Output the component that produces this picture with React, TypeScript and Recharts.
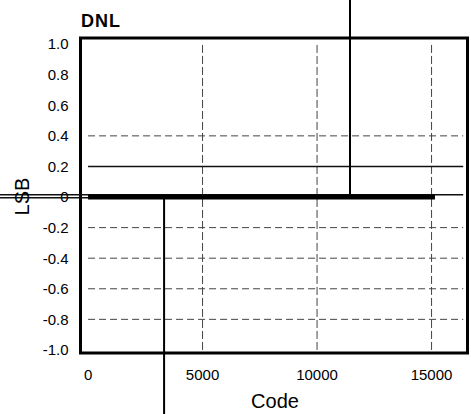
import React from 'react'
import {
  Line,
  LineChart,
  ReferenceArea,
  ReferenceLine,
  XAxis,
  YAxis
} from 'recharts'

// DNL trace (code -> LSB)
const dnlCodes = [0, 15150]
const dnlValues = [0, 0]

// isolated missing/wide codes
const spikeCodes = [3320, 11440]
const spikeValues = [-1.42, 1.3]

const xTicks = [0, 5000, 10000, 15000]
const yTicks = [-1, -0.8, -0.6, -0.4, -0.2, 0, 0.2, 0.4, 0.6, 0.8, 1]

const gridRows = [0.4, -0.2, -0.4, -0.6, -0.8]
const gridCols = [5000, 10000, 15000]
const limitLevels = [0.2, 0.015]
const leadLevels = [0.015, -0.005]

const codeMax = 16383
const leadCode = -3850
const xDomain = [-330, 16570]
const yDomain = [-1.02, 1.04]

const W = 471
const H = 414
const font = 'Arial, "Liberation Sans", sans-serif'

const App: React.FC = () => {
  const data = dnlCodes.map((c, i) => ({ code: c, dnl: dnlValues[i] }))

  return (
    <div style={{ position: 'absolute', left: 0, top: 0, width: W, height: H, fontFamily: font }}>
      <LineChart
        width={W}
        height={H}
        data={data}
        margin={{ top: 38, right: 3.5, bottom: 21, left: 10.5 }}
      >
        <XAxis
          dataKey="code"
          type="number"
          domain={xDomain}
          ticks={xTicks}
          allowDataOverflow
          axisLine={false}
          tickLine={false}
          tickMargin={10}
          height={40}
          tick={{ fill: '#000', fontSize: 15, fontFamily: font }}
        />
        <YAxis
          type="number"
          domain={yDomain}
          ticks={yTicks}
          allowDataOverflow
          axisLine={false}
          tickLine={false}
          tickMargin={6}
          width={70}
          interval={0}
          tick={{ fill: '#000', fontSize: 15, fontFamily: font }}
          tickFormatter={(v: number) => (v === 0 ? '0' : v.toFixed(1))}
        />

        {gridRows.map(v => (
          <ReferenceLine
            key={`r${v}`}
            segment={[{ x: 0, y: v }, { x: codeMax, y: v }]}
            stroke="#444"
            strokeWidth={1}
            strokeDasharray="7 4"
            ifOverflow="visible"
          />
        ))}
        {gridCols.map(v => (
          <ReferenceLine
            key={`c${v}`}
            segment={[{ x: v, y: -1 }, { x: v, y: 1 }]}
            stroke="#444"
            strokeWidth={1}
            strokeDasharray="8 3"
            ifOverflow="visible"
          />
        ))}

        <ReferenceLine
          segment={[{ x: 0, y: limitLevels[0] }, { x: codeMax, y: limitLevels[0] }]}
          stroke="#111"
          strokeWidth={1.5}
          ifOverflow="visible"
        />
        <ReferenceLine
          segment={[{ x: leadCode, y: limitLevels[1] }, { x: codeMax, y: limitLevels[1] }]}
          stroke="#111"
          strokeWidth={1.5}
          ifOverflow="visible"
        />
        <ReferenceLine
          segment={[{ x: leadCode, y: leadLevels[1] }, { x: 0, y: leadLevels[1] }]}
          stroke="#111"
          strokeWidth={1.5}
          ifOverflow="visible"
        />

        <Line
          dataKey="dnl"
          stroke="#000"
          strokeWidth={5}
          dot={false}
          isAnimationActive={false}
        />

        {spikeCodes.map((c, i) => (
          <ReferenceLine
            key={`s${c}`}
            segment={[{ x: c, y: 0 }, { x: c, y: spikeValues[i] }]}
            stroke="#000"
            strokeWidth={2}
            ifOverflow="visible"
          />
        ))}

        <ReferenceArea
          x1={xDomain[0]}
          x2={xDomain[1]}
          y1={yDomain[0]}
          y2={yDomain[1]}
          fill="none"
          stroke="#000"
          strokeWidth={3}
          ifOverflow="visible"
        />
      </LineChart>

      <svg
        width={W}
        height={H}
        style={{ position: 'absolute', left: 0, top: 0, pointerEvents: 'none' }}
      >
        <text x={81} y={27} fontSize={18} fontWeight="bold" letterSpacing={1} fontFamily={font} fill="#000">
          DNL
        </text>
        <text x={275} y={408} fontSize={20} textAnchor="middle" fontFamily={font} fill="#000">
          Code
        </text>
        <text
          transform="translate(29,196.5) rotate(-90)"
          fontSize={20}
          textAnchor="middle"
          fontFamily={font}
          fill="#000"
        >
          LSB
        </text>
      </svg>
    </div>
  )
}

export default App
